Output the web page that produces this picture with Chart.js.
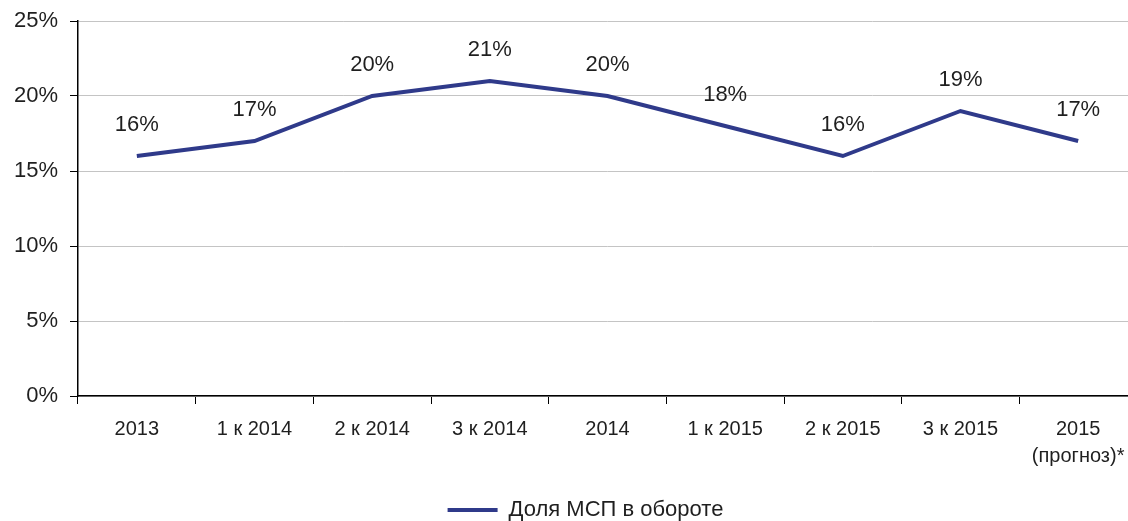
<!DOCTYPE html>
<html>
<head>
<meta charset="utf-8">
<script src="https://cdn.jsdelivr.net/npm/chart.js@4/dist/chart.umd.min.js"></script>
<style>
  html, body { margin: 0; padding: 0; background: #fff; overflow: hidden; }
  #wrap { width: 1140px; height: 521px; }
</style>
</head>
<body>
<div id="wrap"><canvas id="c" width="1140" height="521"></canvas></div>
<script>
const categories = ['2013', '1 к 2014', '2 к 2014', '3 к 2014', '2014', '1 к 2015', '2 к 2015', '3 к 2015', ['2015', '(прогноз)*']];
const shareValues = [16, 17, 20, 21, 20, 18, 16, 19, 17];
const seriesName = 'Доля МСП в обороте';
const yTicks = [0, 5, 10, 15, 20, 25];

const lineColor = '#2f3a8a';
const textColor = '#1f1f1f';
const fontFamily = '"Liberation Sans", Arial, sans-serif';

const dataLabels = {
  id: 'dataLabels',
  afterDatasetsDraw(chart) {
    const ctx = chart.ctx;
    const meta = chart.getDatasetMeta(0);
    ctx.save();
    ctx.font = '22px ' + fontFamily;
    ctx.fillStyle = textColor;
    ctx.textAlign = 'center';
    ctx.textBaseline = 'middle';
    meta.data.forEach((pt, i) => {
      ctx.fillText(shareValues[i] + '%', pt.x, pt.y - 31);
    });
    ctx.restore();
  }
};

const legendShift = {
  id: 'legendShift',
  afterLayout(chart) {
    if (chart.legend) {
      chart.legend.left += 17;
      chart.legend.right += 17;
    }
  }
};

new Chart(document.getElementById('c'), {
  type: 'line',
  data: {
    labels: categories,
    datasets: [{
      label: seriesName,
      data: shareValues,
      borderColor: lineColor,
      backgroundColor: lineColor,
      borderWidth: 4,
      pointRadius: 0,
      tension: 0
    }]
  },
  options: {
    responsive: false,
    animation: false,
    layout: { padding: { left: 0, right: 3, top: 21, bottom: -10 } },
    plugins: {
      tooltip: { enabled: false },
      legend: {
        position: 'bottom',
        labels: {
          font: { size: 22, family: fontFamily },
          color: textColor,
          boxWidth: 50,
          boxHeight: 4,
          padding: 2,
          generateLabels(chart) {
            return [{
              text: seriesName,
              fillStyle: lineColor,
              strokeStyle: lineColor,
              lineWidth: 0,
              datasetIndex: 0,
              fontColor: textColor
            }];
          }
        }
      }
    },
    scales: {
      x: {
        offset: true,
        grid: {
          offset: true,
          drawOnChartArea: false,
          drawTicks: true,
          tickLength: 8,
          tickColor: '#000',
          color: '#000'
        },
        border: { color: '#000', width: 1.5 },
        ticks: {
          font: { size: 20, family: fontFamily, lineHeight: 1.35 },
          color: textColor,
          padding: 12,
          maxRotation: 0,
          autoSkip: false
        },
        afterFit(scale) { scale.height = 101; }
      },
      y: {
        min: 0,
        max: 25,
        afterBuildTicks(scale) { scale.ticks = yTicks.map(v => ({ value: v })); },
        grid: {
          color: '#c4c4c4',
          lineWidth: 1,
          drawTicks: true,
          tickLength: 8,
          tickColor: '#000'
        },
        border: { color: '#000', width: 1.5 },
        ticks: {
          font: { size: 22, family: fontFamily },
          color: textColor,
          padding: 12,
          callback: v => v + '%'
        },
        afterFit(scale) { scale.width = 78; scale.paddingTop = 0; }
      }
    }
  },
  plugins: [dataLabels, legendShift]
});
</script>
</body>
</html>
